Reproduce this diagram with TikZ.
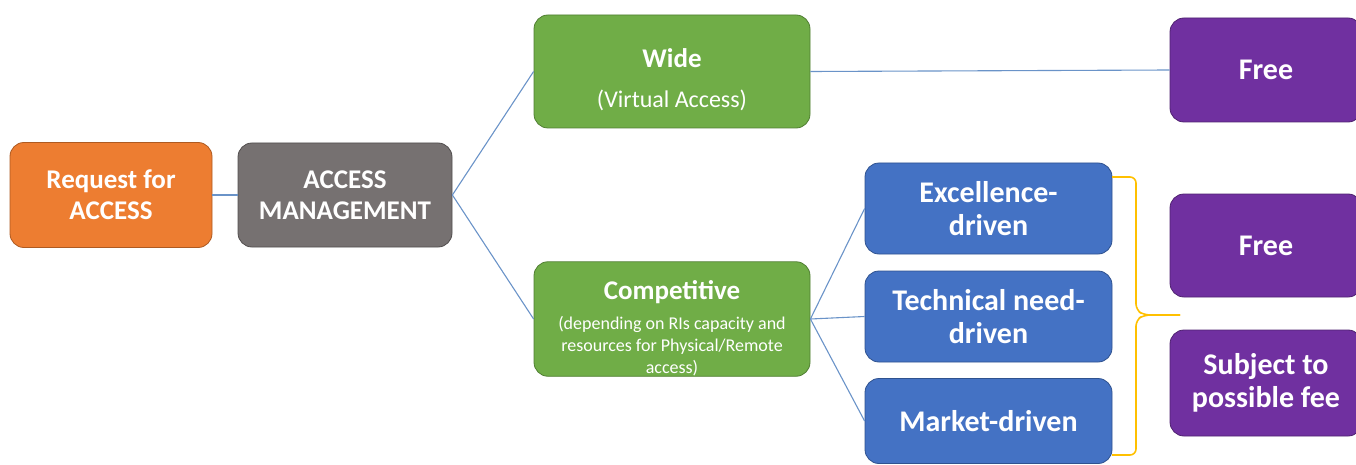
\documentclass[tikz,border=0pt]{standalone}
\usepackage{fontspec}
\setmainfont{Carlito}
\definecolor{cOrange}{HTML}{ED7D31}
\definecolor{cOrangeD}{HTML}{AE5A21}
\definecolor{cGrey}{HTML}{767171}
\definecolor{cGreyD}{HTML}{524E4E}
\definecolor{cGreen}{HTML}{70AD47}
\definecolor{cGreenD}{HTML}{507E32}
\definecolor{cBlue}{HTML}{4472C4}
\definecolor{cBlueD}{HTML}{2F528F}
\definecolor{cPurple}{HTML}{7030A0}
\definecolor{cPurpleD}{HTML}{4F2270}
\definecolor{cLine}{HTML}{6A93C8}
\definecolor{cYellow}{HTML}{FFC000}
\begin{document}
\begin{tikzpicture}[x=1pt,y=-1pt,
  box/.style={rounded corners=14pt, draw, line width=0.8pt, text=white,
    font=\bfseries\fontsize{27}{31}\selectfont, align=center, inner sep=0pt},
  bigtext/.style={font=\bfseries\fontsize{30}{33}\selectfont},
  conn/.style={draw=cLine, line width=1.1pt}]
\useasboundingbox (0,0) rectangle (1356,465);
\clip (0,0) rectangle (1356,465);

\node[box, fill=cOrange, draw=cOrangeD, minimum width=202pt, minimum height=105pt] (req) at (111,195) {Request for\\ACCESS};
\node[box, fill=cGrey, draw=cGreyD, minimum width=214pt, minimum height=104pt] (mgmt) at (345,195) {ACCESS\\MANAGEMENT};
\node[box, fill=cGreen, draw=cGreenD, minimum width=276pt, minimum height=113pt] (wide) at (672,71.5) {\rule{0pt}{36pt}Wide\\[9pt]{\mdseries\fontsize{24}{25}\selectfont (Virtual Access)}};
\node[box, fill=cGreen, draw=cGreenD, minimum width=276pt, minimum height=114pt, font=\bfseries\fontsize{18}{22}\selectfont] (comp) at (672,319) {\rule{0pt}{38pt}{\fontsize{27}{27}\selectfont Competitive}\\[8pt]{\mdseries (depending on RIs capacity and}\\{\mdseries resources for Physical/Remote}\\{\mdseries access)}};
\node[box, bigtext, fill=cBlue, draw=cBlueD, minimum width=247pt, minimum height=91pt] (exc) at (988.5,208.5) {Excellence-\\driven};
\node[box, bigtext, fill=cBlue, draw=cBlueD, minimum width=247pt, minimum height=91pt] (tech) at (988.5,316.5) {Technical need-\\driven};
\node[box, bigtext, fill=cBlue, draw=cBlueD, minimum width=247pt, minimum height=85pt] (mkt) at (988.5,421) {Market-driven};
\node[box, bigtext, fill=cPurple, draw=cPurpleD, minimum width=192pt, minimum height=104pt] (free1) at (1266,70) {Free};
\node[box, bigtext, fill=cPurple, draw=cPurpleD, minimum width=192pt, minimum height=103pt] (free2) at (1266,245.5) {Free};
\node[box, bigtext, fill=cPurple, draw=cPurpleD, minimum width=192pt, minimum height=106pt] (fee) at (1266,383) {Subject to\\possible fee};

\draw[conn] (req.east) -- (mgmt.west);
\draw[conn] (mgmt.east) -- (wide.west);
\draw[conn] (mgmt.east) -- (comp.west);
\draw[conn] (wide.east) -- (free1.west);
\draw[conn] (comp.east) -- (exc.west);
\draw[conn] (comp.east) -- (tech.west);
\draw[conn] (comp.east) -- (mkt.west);

\coordinate (bt) at (1112,177);
\coordinate (bb) at (1112,455);
\coordinate (btip) at (1180,315);
\draw[cYellow, line width=1.6pt, rounded corners=6pt]
  (bt) -- (1136,177) -- (1136,310) -- (1144,315) -- (btip);
\draw[cYellow, line width=1.6pt, rounded corners=6pt]
  (bb) -- (1136,455) -- (1136,320) -- (1144,315) -- (btip);
\end{tikzpicture}
\end{document}
